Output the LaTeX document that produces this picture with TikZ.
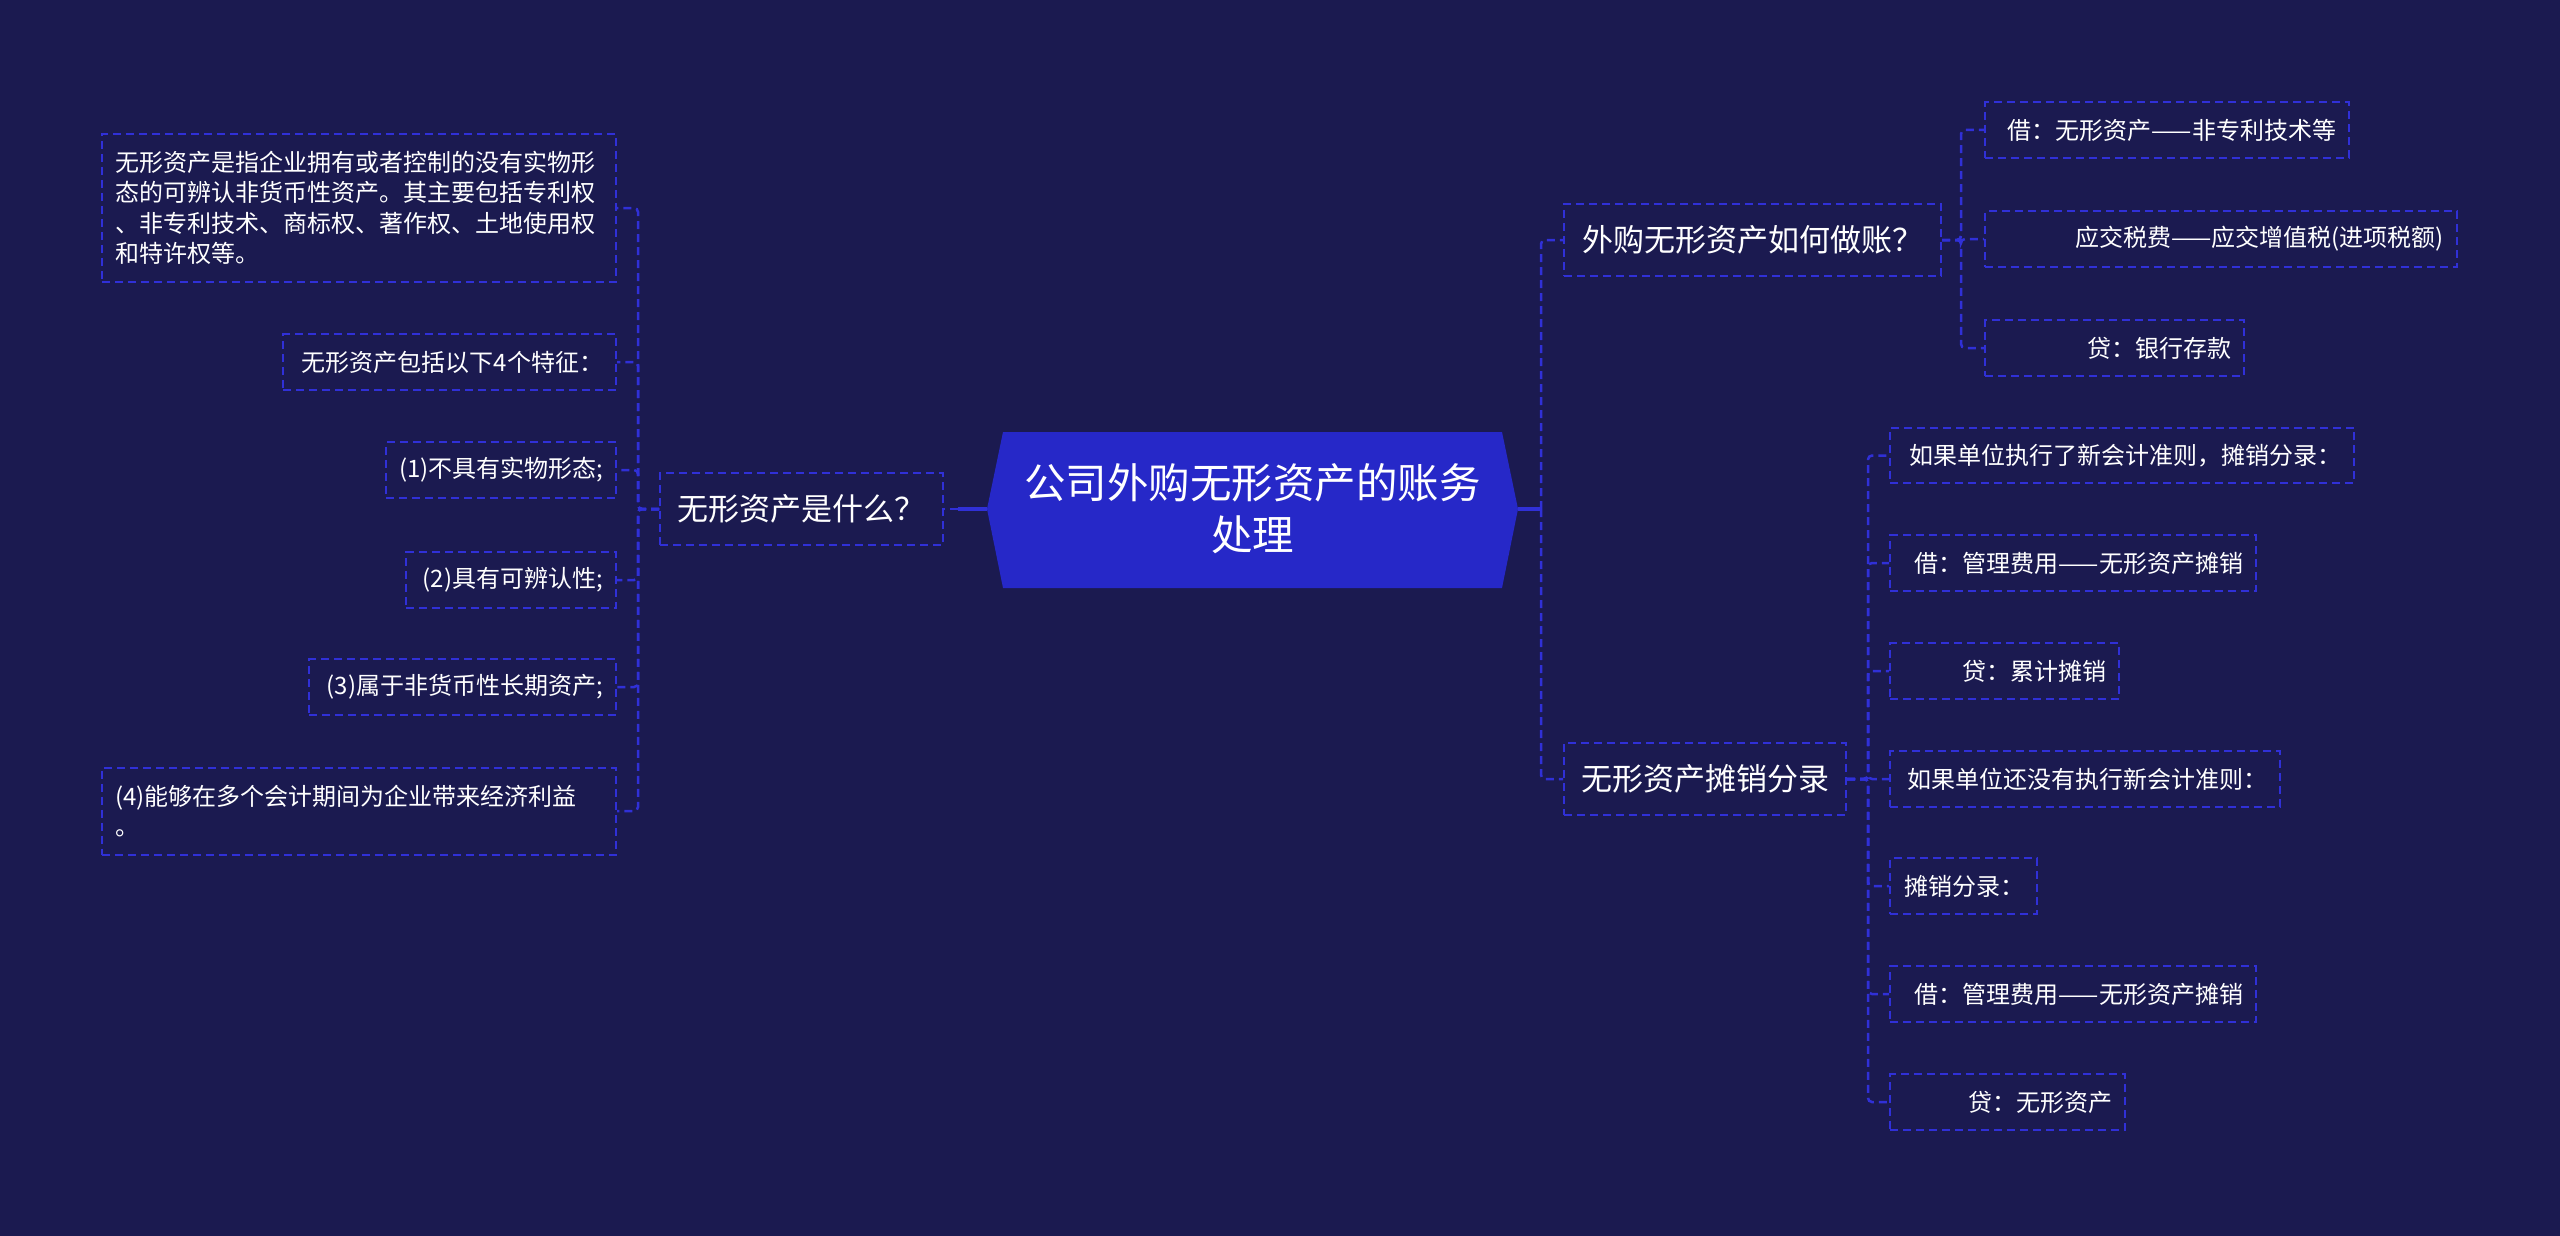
\documentclass[tikz,border=0pt]{standalone}
\usepackage{fontspec}
\newfontfamily\cjk{Noto Sans CJK SC}
\definecolor{bg}{RGB}{27,26,80}
\definecolor{hub}{RGB}{38,40,200}
\definecolor{ln}{RGB}{48,48,215}
\begin{document}
\begin{tikzpicture}[x=1pt,y=-1pt,
  box/.style={draw=ln, line width=2pt, dash pattern=on 8pt off 5pt, text=white, inner xsep=13pt, inner ysep=0pt, minimum height=55.5pt},
  leaf/.style={box, font=\cjk\fontsize{24}{30.5}\selectfont, align=right},
  mid/.style={box, font=\cjk\fontsize{31}{38}\selectfont, minimum height=72pt, inner xsep=0pt, align=center},
  conn/.style={draw=ln, line width=2.5pt, dash pattern=on 8pt off 5pt, rounded corners=4pt},
  solidconn/.style={draw=ln, line width=4pt}]
\useasboundingbox (0,0) rectangle (2560,1236);
\fill[bg] (0,0) rectangle (2560,1236);

% central node
\coordinate (Cw) at (987,509);
\coordinate (Ce) at (1518,509);
\fill[hub] (Cw) -- (1003,432) -- (1502,432) -- (Ce) -- (1502,588) -- (1003,588) -- cycle;
\node[text=white, font=\cjk\fontsize{41.5}{52}\selectfont, align=center] (C) at (1252.5,509) {公司外购无形资产的账务\\处理};

% level 1
\node[mid, anchor=east, minimum width=283pt] (L0) at (944,509) {无形资产是什么？};
\node[mid, anchor=west, minimum width=377pt] (R1) at (1563,240) {外购无形资产如何做账？};
\node[mid, anchor=west, minimum width=282pt] (R2) at (1563,779) {无形资产摊销分录};

% left leaves
\node[leaf, anchor=east, text width=488pt, align=left, minimum height=148pt] (L1) at (617,208) {无形资产是指企业拥有或者控制的没有实物形\\态的可辨认非货币性资产。其主要包括专利权\\、非专利技术、商标权、著作权、土地使用权\\和特许权等。};
\node[leaf, anchor=east, text width=307pt] (L2) at (617,362) {无形资产包括以下4个特征：};
\node[leaf, anchor=east, text width=204pt] (L3) at (617,470) {(1)不具有实物形态;};
\node[leaf, anchor=east, text width=184pt] (L4) at (617,580) {(2)具有可辨认性;};
\node[leaf, anchor=east, text width=281pt] (L5) at (617,687) {(3)属于非货币性长期资产;};
\node[leaf, anchor=east, text width=488pt, align=left, minimum height=87pt] (L6) at (617,811) {(4)能够在多个会计期间为企业带来经济利益\\。};

% right leaves of R1
\node[leaf, anchor=west, text width=338pt] (R1a) at (1984,130) {借：无形资产——非专利技术等};
\node[leaf, anchor=west, text width=446pt] (R1b) at (1984,239) {应交税费——应交增值税(进项税额)};
\node[leaf, anchor=west, text width=233pt] (R1c) at (1984,348) {贷：银行存款};

% right leaves of R2
\node[leaf, anchor=west, text width=438pt] (R2a) at (1889,455.5) {如果单位执行了新会计准则，摊销分录：};
\node[leaf, anchor=west, text width=340pt] (R2b) at (1889,563) {借：管理费用——无形资产摊销};
\node[leaf, anchor=west, text width=203pt] (R2c) at (1889,671) {贷：累计摊销};
\node[leaf, anchor=west, text width=364pt] (R2d) at (1889,779) {如果单位还没有执行新会计准则：};
\node[leaf, anchor=west, text width=121pt] (R2e) at (1889,886) {摊销分录：};
\node[leaf, anchor=west, text width=340pt] (R2f) at (1889,994) {借：管理费用——无形资产摊销};
\node[leaf, anchor=west, text width=209pt] (R2g) at (1889,1102) {贷：无形资产};

% connectors from centre
\coordinate (Lj) at (958,509);
\coordinate (Rj) at (1541,509);
\draw[solidconn] (Cw) -- (Lj);
\draw[conn] (Lj) -- (L0.east);
\draw[solidconn] (Ce) -- (Rj);
\draw[conn] (Rj) |- (R1.west);
\draw[conn] (Rj) |- (R2.west);

% left trunk
\coordinate (Lt) at (638,509);
\foreach \n in {L1,L2,L3,L4,L5,L6}
  \draw[conn] (L0.west) -- (Lt) |- (\n.east);

% R1 trunk
\coordinate (R1t) at (1961,240);
\foreach \n in {R1a,R1b,R1c}
  \draw[conn] (R1.east) -- (R1t) |- (\n.west);

% R2 trunk
\coordinate (R2t) at (1868,779);
\foreach \n in {R2a,R2b,R2c,R2d,R2e,R2f,R2g}
  \draw[conn] (R2.east) -- (R2t) |- (\n.west);
\end{tikzpicture}
\end{document}
